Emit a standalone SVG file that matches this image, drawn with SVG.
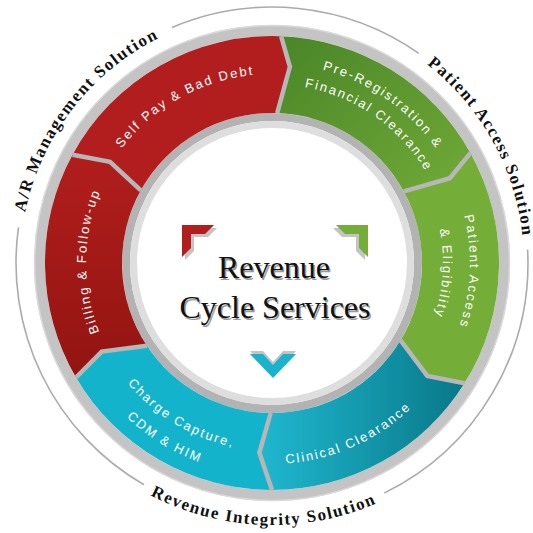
<svg xmlns="http://www.w3.org/2000/svg" width="533" height="533" viewBox="0 0 533 533">
<style>
.seg-text{font-family:"Liberation Sans","Arial",sans-serif;font-size:13px;fill:#ffffff;letter-spacing:2px}
.ring-label{font-family:"Liberation Serif","Times New Roman",serif;font-size:17px;font-weight:bold;fill:#111111;letter-spacing:1.5px}
.title{font-family:"Liberation Serif","Times New Roman",serif;font-size:32px;text-anchor:middle}
.sep{fill:none;stroke:#b7b7b7;stroke-width:4.5;stroke-linejoin:miter}
.thin{fill:none;stroke:#ababab;stroke-width:1.6}
</style>
<defs>
<linearGradient id="gBilling" x1="0" y1="0" x2="0" y2="1"><stop offset="0" stop-color="#b11e1c"/><stop offset="1" stop-color="#921411"/></linearGradient>
<linearGradient id="gPre" x1="0" y1="0" x2="1" y2="1"><stop offset="0" stop-color="#4a8528"/><stop offset="1" stop-color="#70aa37"/></linearGradient>
<linearGradient id="gClin" x1="0" y1="0" x2="1" y2="0"><stop offset="0" stop-color="#1fb8d0"/><stop offset="1" stop-color="#087888"/></linearGradient>
<path id="pSelf" d="M85.3,292.6 A189,189 0 0 1 396,120.4"/>
<path id="pPre1" d="M157.3,99.2 A200,200 0 0 1 465.2,314.8"/>
<path id="pPre2" d="M169.3,116.4 A179,179 0 0 1 444.9,309.3"/>
<path id="pPat1" d="M347.8,80.1 A198,198 0 0 1 331.5,451.8"/>
<path id="pPat2" d="M340.2,106.2 A171,171 0 0 1 320.6,427"/>
<path id="pBill" d="M206.9,437.2 A186,186 0 0 1 209.9,87.7"/>
<path id="pClin" d="M127.4,402.6 A201,201 0 0 0 472.5,249"/>
<path id="pChg1" d="M87.5,227.1 A188,188 0 0 0 390.3,409.1"/>
<path id="pChg2" d="M64.3,220.7 A212,212 0 0 0 404,428.9"/>
<path id="pAR" d="M59.5,398.4 A252,252 0 0 1 347.8,22.7"/>
<path id="pPAS" d="M232.6,14.1 A252,252 0 0 1 462.2,428.3"/>
<path id="pRIS" d="M22.8,344 A262,262 0 0 0 514.9,361.1"/>
</defs>
<rect width="533" height="533" fill="#ffffff"/>

<g id="outer-circle">
<path class="thin" d="M172,27.4 A256,256 0 0 1 418.8,53.3"/>
<path class="thin" d="M527.6,249.6 A256,256 0 0 1 384.2,493.1"/>
<path class="thin" d="M144,484.7 A256,256 0 0 1 18.5,227.4"/>
</g>

<g id="rings">
<circle cx="272" cy="263" r="232.5" fill="none" stroke="#c4c4c4" stroke-width="11"/>
<circle cx="272" cy="263" r="237.5" fill="none" stroke="#dadada" stroke-width="1.5"/>
<circle cx="272" cy="263" r="146" fill="none" stroke="#b3b3b3" stroke-width="8"/>
<circle cx="272" cy="263" r="138.5" fill="none" stroke="#dedede" stroke-width="7"/>
</g>

<g id="self-pay">
<path fill="#b21e1e" d="M72.5,154.7 A227,227 0 0 1 281.1,36.2 L289.9,66.8 L277.2,113.1 A150,150 0 0 0 140.8,190.3 L110,161.8 Z"/>
<text class="seg-text"><textPath href="#pSelf" startOffset="50%" text-anchor="middle">Self Pay &amp; Bad Debt</textPath></text>
</g>
<g id="pre-registration">
<path fill="url(#gPre)" d="M281.1,36.2 A227,227 0 0 1 470.5,152.9 L449.8,178.2 L403.8,191.4 A150,150 0 0 0 277.2,113.1 L289.9,66.8 Z"/>
<text class="seg-text"><textPath href="#pPre1" startOffset="50%" text-anchor="middle">Pre-Registration &amp;</textPath></text>
<text class="seg-text"><textPath href="#pPre2" startOffset="50%" text-anchor="middle">Financial Clearance</textPath></text>
</g>
<g id="patient-access">
<path fill="#74ae39" d="M470.5,152.9 A227,227 0 0 1 464.5,383.3 L427.3,375.9 L400.6,340.3 A150,150 0 0 0 403.8,191.4 L449.8,178.2 Z"/>
<text class="seg-text"><textPath href="#pPat1" startOffset="50%" text-anchor="middle">Patient Access</textPath></text>
<text class="seg-text"><textPath href="#pPat2" startOffset="50%" text-anchor="middle">&amp; Eligibility</textPath></text>
</g>
<g id="clinical-clearance">
<path fill="url(#gClin)" d="M464.5,383.3 A227,227 0 0 1 272,490 L259.4,452.6 L270.7,413 A150,150 0 0 0 400.6,340.3 L427.3,375.9 Z"/>
<text class="seg-text"><textPath href="#pClin" startOffset="50%" text-anchor="middle">Clinical Clearance</textPath></text>
</g>
<g id="charge-capture">
<path fill="#14b3cc" d="M272,490 A227,227 0 0 1 76,377.5 L101.7,351.6 L146.9,345.8 A150,150 0 0 0 270.7,413 L259.4,452.6 Z"/>
<text class="seg-text"><textPath href="#pChg1" startOffset="50%" text-anchor="middle">Charge Capture,</textPath></text>
<text class="seg-text"><textPath href="#pChg2" startOffset="50%" text-anchor="middle">CDM &amp; HIM</textPath></text>
</g>
<g id="billing">
<path fill="url(#gBilling)" d="M76,377.5 A227,227 0 0 1 72.5,154.7 L110,161.8 L140.8,190.3 A150,150 0 0 0 146.9,345.8 L101.7,351.6 Z"/>
<text class="seg-text"><textPath href="#pBill" startOffset="50%" text-anchor="middle">Billing &amp; Follow-up</textPath></text>
</g>

<g id="connectors">
<polyline class="sep" stroke-width="10" points="281.1,36.2 289.9,66.8 277.2,113.1"/>
<polyline class="sep" points="470.5,152.9 449.8,178.2 403.8,191.4"/>
<polyline class="sep" points="464.5,383.3 427.3,375.9 400.6,340.3"/>
<polyline class="sep" points="272,490 259.4,452.6 270.7,413"/>
<polyline class="sep" stroke-width="9" points="76,377.5 101.7,351.6 146.9,345.8"/>
<polyline class="sep" points="72.5,154.7 110,161.8 140.8,190.3"/>
</g>

<g id="center">
<polygon fill="#c4c4c4" points="185,228 217,228 208,237 194,237 194,251 185,260"/>
<polygon fill="#b21e1e" points="182,225 214,225 205,234 191,234 191,248 182,257"/>
<polygon fill="#c4c4c4" points="365,228 333,228 342,237 356,237 356,251 365,260"/>
<polygon fill="#74ae39" points="368,225 336,225 345,234 359,234 359,248 368,257"/>
<polygon fill="#c4c4c4" points="250,351 263,351 273,362 283,351 296,351 273,375"/>
<polygon fill="#1ab3cc" points="250,354 263,354 273,365 283,354 296,354 273,378"/>
<text class="title" x="275.5" y="279.5" fill="#9a9a9a">Revenue</text>
<text class="title" x="274" y="278" fill="#111111">Revenue</text>
<text class="title" x="276.5" y="319.5" fill="#9a9a9a">Cycle Services</text>
<text class="title" x="275" y="318" fill="#111111">Cycle Services</text>
</g>

<g id="ar-management">
<text class="ring-label"><textPath href="#pAR" startOffset="50%" text-anchor="middle">A/R Management Solution</textPath></text>
</g>
<g id="patient-access-solution">
<text class="ring-label"><textPath href="#pPAS" startOffset="50%" text-anchor="middle">Patient Access Solution</textPath></text>
</g>
<g id="revenue-integrity">
<text class="ring-label"><textPath href="#pRIS" startOffset="50%" text-anchor="middle">Revenue Integrity Solution</textPath></text>
</g>
</svg>
